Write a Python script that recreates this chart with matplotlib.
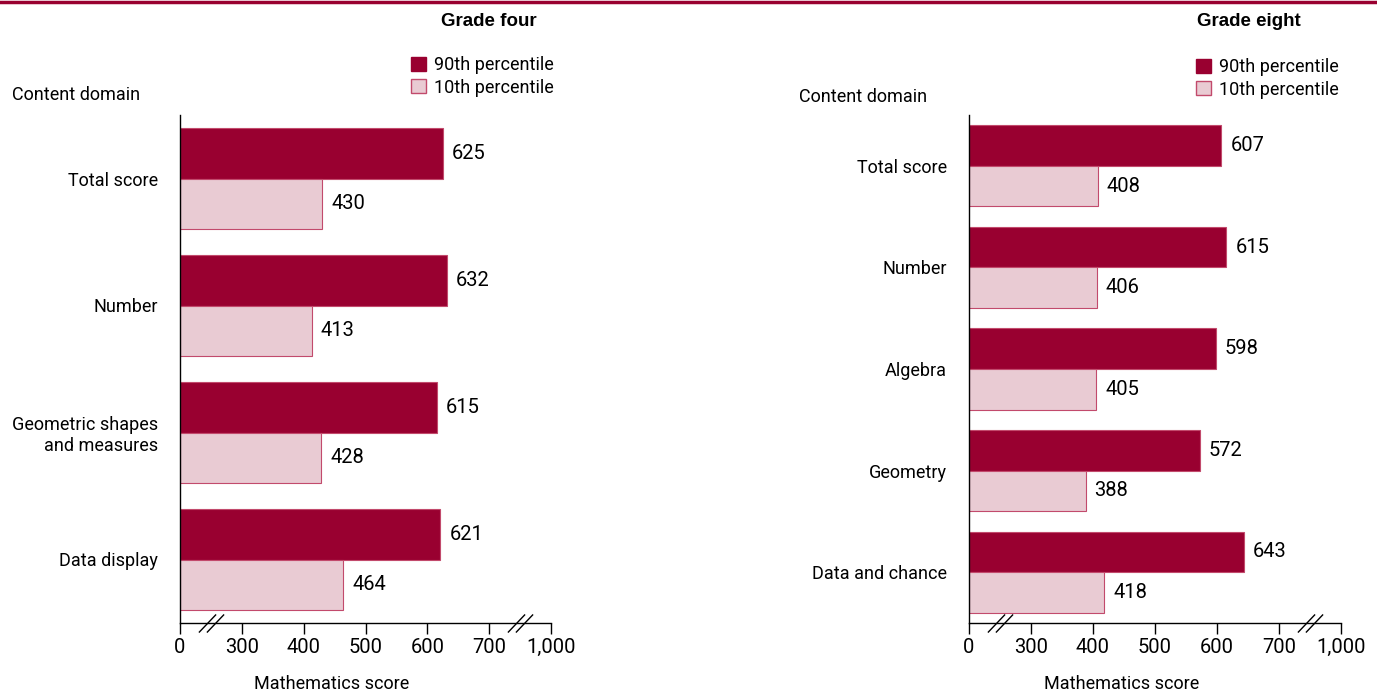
import numpy as np
import matplotlib
matplotlib.use('Agg')
import matplotlib.pyplot as plt
from matplotlib.patches import Patch
from matplotlib.lines import Line2D
from matplotlib.transforms import offset_copy

plt.rcParams['font.family'] = ['Roboto', 'DejaVu Sans']

# data
g4_domains = ['Total score', 'Number', 'Geometric shapes\nand measures', 'Data display']
g4_p90 = [625, 632, 615, 621]
g4_p10 = [430, 413, 428, 464]

g8_domains = ['Total score', 'Number', 'Algebra', 'Geometry', 'Data and chance']
g8_p90 = [607, 615, 598, 572, 643]
g8_p10 = [408, 406, 405, 388, 418]

tick_vals = [0, 300, 400, 500, 600, 700, 1000]
tick_labels = ['0', '300', '400', '500', '600', '700', '1,000']

DARK = '#990030'
LIGHT = '#e9cbd3'
EDGE = '#c24a6c'
FS = 13       # words
NUM_FS = 14.5  # numbers (the original font has wide digits)

# broken axis: 0-300 and 700-1000 squeezed to one 100-unit step each
BRK_V = [0, 300, 700, 1000]
BRK_P = [0, 100, 500, 600]
fwd = lambda v: np.interp(v, BRK_V, BRK_P)
inv = lambda p: np.interp(p, BRK_P, BRK_V)

fig = plt.figure(figsize=(13.77, 6.92), dpi=100)
W, H = 1377, 692
AX_TOP, AX_BOT = 115, 623


def panel(left_px, right_px, domains, p90, p10, title, title_x, leg_x, leg_y, cd_x, cd_y):
    ax = fig.add_axes([left_px / W, (H - AX_BOT) / H, (right_px - left_px) / W, (AX_BOT - AX_TOP) / H])
    ax.set_xscale('function', functions=(fwd, inv))
    n = len(domains)
    y = np.arange(n)
    h = 0.4
    ax.barh(y - h / 2, p90, height=h, color=DARK, edgecolor=EDGE, linewidth=0.8)
    ax.barh(y + h / 2, p10, height=h, color=LIGHT, edgecolor=EDGE, linewidth=0.8)
    for yy, v in zip(y - h / 2, p90):
        ax.annotate(str(v), (v, yy), xytext=(6.5, 0), textcoords='offset points',
                    va='center', ha='left', fontsize=NUM_FS)
    for yy, v in zip(y + h / 2, p10):
        ax.annotate(str(v), (v, yy), xytext=(6.5, 0), textcoords='offset points',
                    va='center', ha='left', fontsize=NUM_FS)
    ax.set_xlim(0, 1000)
    ax.set_ylim(n - 0.5, -0.5)
    ax.set_xticks(tick_vals)
    ax.set_xticklabels(tick_labels, fontsize=NUM_FS)
    ax.set_yticks(y)
    ax.set_yticklabels(domains, fontsize=FS, ha='right')
    ax.tick_params(axis='y', length=0, pad=16)
    ax.tick_params(axis='x', length=8, width=1, pad=3)
    for s in ['top', 'right']:
        ax.spines[s].set_visible(False)
    ax.spines['left'].set_linewidth(1)
    ax.spines['bottom'].set_linewidth(1)
    ax.text(0.41, -(684 - AX_BOT) / (AX_BOT - AX_TOP), 'Mathematics score', transform=ax.transAxes,
            ha='center', va='center', fontsize=FS)
    # break marks
    for b in [150, 850]:
        for dx in (-4, 4):
            tr = offset_copy(ax.get_xaxis_transform(), fig=fig, x=dx, y=0, units='dots')
            ax.plot([b], [0], transform=tr, marker=[(-1, -1.05), (1, 1.05)],
                    markersize=13, mec='black', mew=1, mfc='none', clip_on=False)
    fig.text(title_x / W, 1 - 22 / H, title, fontsize=FS + 0.5, fontweight='bold',
             ha='left', va='center', family=['Liberation Sans', 'DejaVu Sans'])
    fig.text(cd_x / W, 1 - cd_y / H, 'Content domain', fontsize=FS, ha='left', va='center')
    handles = [Patch(facecolor=DARK, edgecolor=DARK, label='90th percentile'),
               Patch(facecolor=LIGHT, edgecolor=EDGE, label='10th percentile')]
    fig.legend(handles=handles, loc='upper left', bbox_to_anchor=(leg_x / W, 1 - leg_y / H),
               frameon=False, fontsize=FS, handlelength=0.85, handleheight=0.85,
               handletextpad=0.4, borderpad=0, borderaxespad=0, labelspacing=0.25)
    return ax


panel(180, 551, g4_domains, g4_p90, g4_p10, 'Grade four', 441, 411, 56, 12, 95)
panel(969, 1341, g8_domains, g8_p90, g8_p10, 'Grade eight', 1197, 1196, 58, 799, 97)

fig.add_artist(Line2D([0, 1], [1 - 1.5 / H, 1 - 1.5 / H], color=DARK, linewidth=2.5,
                      transform=fig.transFigure))

fig.savefig('out.png', dpi=100)
